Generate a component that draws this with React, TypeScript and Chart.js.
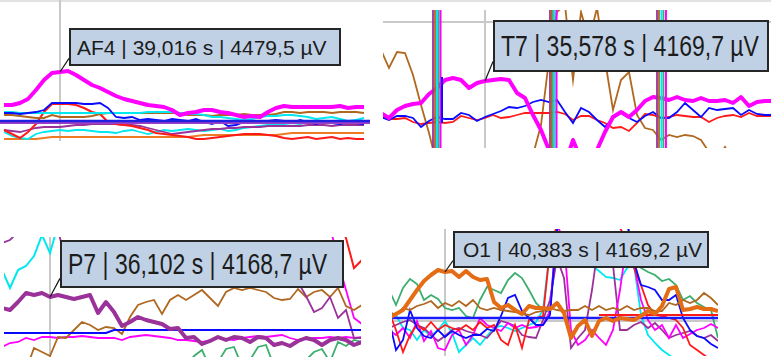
import React, { useEffect, useRef } from "react";
import { Chart, registerables } from "chart.js";

Chart.register(...registerables);

// ===================== DATA =====================
// Values are amplitudes on each panel's display rows (EEG convention: value axis reversed).

// ---- Panel AF4 (top-left), one sample per index ----
const af4Label = "AF4 | 39,016 s | 4479,5 µV";
const af4Cursor = 7;
const af4Magenta = [105,105,103,99,90,80,73,72,71,75, 80,85,88,92,96,99,101,103,105,106, 107,110,115,113,112,110,110,112,113,115, 117,116,117,112,108,106,107,107,107,107, 107,107,106,108,107,107];
const af4Blue = [113,113,114,113,112,110,103,103,103,103, 104,104,103,108,117,118,117,120,119,120, 121,119,120,121,119,122,124,121,126,125, 122,122,123,121,120,121,123,120,122,124, 121,123,124,122,123,124];
const af4Red = [130,134,138,132,124,112,104,104,104,105, 108,112,114,122,124,125,126,128,130,133, 134,135,136,137,139,139,138,137,136,135, 134,134,134,135,136,138,139,138,137,139, 138,137,139,138,139,139];
const af4CyanUpper = [112,112,113,113,113,113,113,113,113,113, 113,113,113,113,113,113,113,113,112,112, 112,112,113,114,114,115,117,117,118,119, 120,119,117,116,116,115,115,116,117,119, 118,117,119,121,120,118];
const af4CyanLower = [132,136,138,139,134,132,131,130,131,130, 130,131,132,132,133,131,130,132,134,132, 130,131,130,129,130,131,130,129,131,130, 128,127,126,125,124,124,123,124,122,121, 123,122,121,123,120,121];
const af4Brown = [115,115,116,117,118,118,115,117,117,117, 117,116,114,113,113,113,113,113,113,113, 113,113,113,115,115,115,116,115,115,115, 114,115,115,115,114,112,112,113,112,112, 112,113,112,112,112,113];
const af4Purple = [130,131,132,130,128,127,127,127,126,125, 125,124,124,124,124,125,125,126,128,130, 132,134,133,132,131,130,129,129,128,128, 127,127,127,126,126,126,126,126,125,125, 125,126,125,125,125,125];
const af4Orange = [139,139,139,139,139,138,137,137,137,137, 137,137,137,137,137,137,137,137,137,137, 137,137,137,137,136,135,135,135,135,135, 135,135,135,135,135,134,133,133,133,133, 133,133,133,133,133,133];
const af4FlatBlue = 121;
const af4FlatPurple = 123;

// ---- Panel T7 (top-right) ----
const t7Label = "T7 | 35,578 s | 4169,7 µV";
const t7Cursor = 13;
const t7Grid = [22];
const t7Magenta = [113,118,110,106,104,103,94,88,80,78, 80,88,83,81,80,79,80,93,98,115, 130,150,165,165,140,160,165,150,132,117, 112,117,110,101,97,98,100,97,100,101, 98,101,101,100,103,97,106,102,101,101];
const t7Blue = [117,120,116,116,118,127,121,117,119,119, 113,115,121,117,114,111,107,108,106,102, 100,102,100,112,123,108,112,120,127,118, 113,118,122,116,112,118,118,112,103,110, 117,108,110,109,108,115,110,114,115,115];
const t7Red = [117,119,119,118,122,124,123,122,123,122, 116,118,120,118,115,118,117,115,113,113, 113,113,112,114,120,116,116,120,123,128, 127,131,123,114,115,118,117,115,116,117, 117,122,118,116,115,117,113,116,116,116];
const t7Brown = [50,68,52,53,75,105,133,165,165,165, 165,165,165,165,165,165,165,165,165,155, 125,60,12,5,80,12,40,8,60,110, 80,72,115,128,130,140,135,137,135,136, 140,152,160,147,160,160,160,160,160,160];
// artifact bursts (sample positions where channels saturate)
const t7ArtPurple = [6.5, 21.125, 34.5];
const t7ArtBrown = [6.75, 21.31, 34.75];
const t7ArtGreen = [7.19, 21.5, 35.31];
const t7ArtCyan = [7.0, 21.69, 35.06];
const t7ArtMagenta = [7.44, 21.94, 35.62];
const t7ArtBlue = [7.625];
const t7ArtBlueRange = [77, 123];

// ---- Panel P7 (bottom-left) ----
const p7Label = "P7 | 36,102 s | 4168,7 µV";
const p7Cursor = 6;
const p7Purple = [308,310,302,293,295,293,297,295,297,299, 297,295,313,302,312,326,322,317,320,322, 324,329,328,338,337,344,341,337,340,337, 338,342,337,338,345,343,346,341,338,340, 345,340,338,340,345,342];
const p7PurpleThin = [243,240,232,230,230,230,230,230,262,262, 262,262,262,262,262,262,262,262,262,262, 262,262,262,262,262,262,262,262,262,262, 262,262,262,262,262,262,275,282,296,312, 308,297,318,310,338,338];
const p7Brown = [380,380,380,370,348,352,356,337,338,330, 322,325,330,327,328,334,317,305,302,300, 314,300,295,300,295,290,298,306,292,288, 290,288,290,292,298,300,299,289,297,292, 290,297,288,306,310,305];
const p7Blue = [333,333,333,333,333,333,333,333,333,333, 333,333,333,333,330,330,330,330,330,330, 330,330,330,330,330,330,330,330,330,330, 330,330,330,330,330,330,330,330,330,330, 330,330,330,330,330,330];
const p7Magenta = [347,343,342,338,340,337,337,338,337,337, 336,337,338,338,338,340,337,336,335,336, 337,338,340,340,341,342,340,338,339,340, 338,337,336,337,336,335,338,340,339,338, 338,337,338,337,338,337];
const p7Magenta2 = [225,225,225,225,225,225,225,225,225,225, 225,225,225,225,225,225,225,225,225,225, 225,225,225,225,225,225,225,225,225,225, 225,225,225,225,225,225,225,225,225,225, 225,225,262,290,318,324];
const p7Cyan = [270,288,270,266,256,235,253,225,220,220, 220,220,220,220,220,220,220,220,220,220, 220,220,220,220,220,220,220,220,220,220, 220,220,220,220,220,220,220,220,220,220, 220,220,220,220,220,220];
const p7Red = [220,220,220,220,220,220,220,220,220,220, 220,220,220,220,220,220,220,220,220,220, 220,220,220,220,220,220,220,220,220,220, 220,220,220,220,220,220,220,220,220,220, 220,220,222,238,268,260];
const p7Green = [372,372,372,372,372,372,372,372,372,372, 372,372,372,372,372,372,372,372,372,372, 372,372,372,366,356,350,368,362,349,347, 366,360,347,345,366,372,372,368,360,352, 349,362,342,346,340,342];

// ---- Panel O1 (bottom-right) ----
const o1Label = "O1 | 40,383 s | 4169,2 µV";
const o1Cursor = 8;
const o1Grid = [321];
const o1Orange = [318,314,310,300,290,281,275,270,272,271, 277,271,277,280,279,302,308,305,310,314, 306,308,308,309,303,313,338,326,320,336, 321,318,321,318,319,320,316,311,314,306, 289,287,310,309,307,309,309,311];
const o1Green = [290,305,288,279,284,300,295,299,308,310, 308,316,318,300,287,290,293,280,273,278, 290,303,310,312,225,215,215,215,215,215, 215,215,215,215,222,250,268,272,275,281, 279,285,300,296,303,307,310,338];
const o1Brown = [312,315,308,310,306,304,301,308,303,306, 301,306,300,308,310,308,310,311,312,314, 315,312,311,308,310,311,310,310,306,310, 306,310,308,310,306,310,308,308,311,311, 303,305,300,303,300,293,298,305];
const o1Magenta = [330,335,328,338,321,341,331,348,350,335, 330,345,335,318,325,328,331,323,328,325, 328,327,325,311,225,240,330,345,340,330, 338,345,330,290,240,265,300,320,330,325, 338,325,338,334,330,328,324,328];
const o1Cyan = [320,315,328,330,340,330,336,330,321,333, 352,345,338,345,336,328,326,328,331,328, 325,322,310,248,238,255,265,262,262,266, 271,277,278,280,268,265,315,335,343,350, 355,360,365,368,368,368,368,368];
const o1Blue = [320,350,340,310,328,336,338,330,337,331, 335,338,335,335,329,331,316,298,295,311, 318,325,325,315,230,220,215,215,215,215, 215,215,215,215,222,262,285,287,290,300, 300,295,318,330,336,338,344,348];
const o1Red = [312,330,352,335,325,330,322,330,325,328, 330,325,330,322,328,325,340,345,325,348, 320,318,316,250,225,220,215,215,215,215, 215,215,215,228,240,268,285,305,315,316, 318,320,328,345,350,355,360,365];
const o1Purple = [328,325,322,320,325,328,335,341,336,330, 328,331,333,335,338,330,321,323,326,335, 337,338,320,300,258,278,348,338,330,290, 240,256,265,330,330,325,322,328,323,330, 338,335,333,331,336,338,335,341];
const o1FlatBlue = 318;
const o1FlatRed = 315;
const o1FlatRedFrom = 30;

// ===================== COLOURS =====================
const MAGENTA = "#ff00ff";
const BLUE = "#0a0aff";
const RED = "#ff1a1a";
const CYAN = "#00e8f0";
const BROWN = "#b06820";
const PURPLE = "#9a329a";
const ORANGE = "#ef7a24";
const GREEN = "#3cae6e";
const THIN = 1.8;

type Layer =
  | { kind: "trace"; values: number[]; color: string; width: number }
  | { kind: "flat"; value: number; color: string; width: number; from?: number }
  | { kind: "spike"; at: number[]; color: string; width: number; range?: number[] };

type PanelSpec = {
  frame: { left: number; top: number; width: number; height: number };
  xWindow: [number, number];
  yWindow: [number, number];
  layers: Layer[];
  cursor: number;
  cursorTrace: number[];
  grid?: number[];
  label: { text: string; left: number; top: number; width: number; height: number; fontSize: number; stretch: number; pad: number };
};

const tr = (values: number[], color: string, width = THIN): Layer => ({ kind: "trace", values, color, width });

const panels: PanelSpec[] = [
  {
    frame: { left: 0, top: 0, width: 370, height: 141 },
    xWindow: [-0.5, 45.75],
    yWindow: [0, 141],
    cursor: af4Cursor,
    cursorTrace: af4Magenta,
    layers: [
      tr(af4Orange, ORANGE, 2),
      tr(af4CyanLower, CYAN),
      tr(af4Purple, PURPLE),
      tr(af4Red, RED, 2),
      tr(af4Brown, BROWN, 2),
      tr(af4CyanUpper, CYAN, 2),
      tr(af4Blue, BLUE),
      { kind: "flat", value: af4FlatPurple, color: "#9b3fc8", width: 1.8 },
      { kind: "flat", value: af4FlatBlue, color: "#2020e0", width: 2.5 },
      tr(af4Magenta, MAGENTA, 4),
    ],
    label: { text: af4Label, left: 69, top: 28, width: 272, height: 38, fontSize: 21, stretch: 1.0, pad: 8 },
  },
  {
    frame: { left: 383, top: 10, width: 388, height: 138 },
    xWindow: [0.25, 48.75],
    yWindow: [10, 148],
    cursor: t7Cursor,
    cursorTrace: t7Magenta,
    grid: t7Grid,
    layers: [
      tr(t7Brown, BROWN),
      tr(t7Red, RED),
      tr(t7Blue, BLUE),
      tr(t7Magenta, MAGENTA, 4),
      { kind: "spike", at: t7ArtPurple, color: PURPLE, width: 1.8 },
      { kind: "spike", at: t7ArtBrown, color: BROWN, width: 1.8 },
      { kind: "spike", at: t7ArtGreen, color: GREEN, width: 1.8 },
      { kind: "spike", at: t7ArtCyan, color: CYAN, width: 2 },
      { kind: "spike", at: t7ArtMagenta, color: MAGENTA, width: 2 },
      { kind: "spike", at: t7ArtBlue, color: BLUE, width: 2, range: t7ArtBlueRange },
    ],
    label: { text: t7Label, left: 493, top: 20, width: 276, height: 52, fontSize: 23, stretch: 1.3, pad: 8 },
  },
  {
    frame: { left: 4, top: 237, width: 357, height: 120 },
    xWindow: [0.25, 44.875],
    yWindow: [237, 357],
    cursor: p7Cursor,
    cursorTrace: p7Purple,
    layers: [
      tr(p7Green, GREEN),
      tr(p7Cyan, CYAN, 2),
      tr(p7Red, RED, 2),
      tr(p7Magenta2, MAGENTA),
      tr(p7Magenta, MAGENTA),
      tr(p7Brown, BROWN),
      tr(p7PurpleThin, PURPLE),
      tr(p7Blue, BLUE, 2),
      tr(p7Purple, PURPLE, 4),
    ],
    label: { text: p7Label, left: 60, top: 240, width: 284, height: 48, fontSize: 23, stretch: 1.3, pad: 8 },
  },
  {
    frame: { left: 392, top: 229, width: 326, height: 127 },
    xWindow: [3 / 7, 47],
    yWindow: [229, 356],
    cursor: o1Cursor,
    cursorTrace: o1Orange,
    grid: o1Grid,
    layers: [
      tr(o1Cyan, CYAN),
      tr(o1Green, GREEN),
      tr(o1Purple, PURPLE),
      tr(o1Magenta, MAGENTA),
      tr(o1Red, RED),
      tr(o1Blue, BLUE),
      tr(o1Brown, BROWN),
      { kind: "flat", value: o1FlatBlue, color: "#1a1aff", width: 2.5 },
      { kind: "flat", value: o1FlatRed, color: RED, width: 2, from: o1FlatRedFrom },
      tr(o1Orange, "#e46c14", 4),
    ],
    label: { text: o1Label, left: 453, top: 231, width: 256, height: 37, fontSize: 21, stretch: 1.0, pad: 10 },
  },
];

// cursor line, reference lines and label leader
const eegOverlay = {
  id: "eegOverlay",
  beforeDatasetsDraw(chart: any, _args: any, opts: any) {
    const { ctx, chartArea: a, scales } = chart;
    ctx.save();
    ctx.strokeStyle = "#c9c9c9";
    ctx.lineWidth = 2;
    for (const g of opts.grid || []) {
      const y = Math.round(scales.y.getPixelForValue(g));
      ctx.beginPath();
      ctx.moveTo(a.left, y);
      ctx.lineTo(a.right, y);
      ctx.stroke();
    }
    const cx = Math.round(scales.x.getPixelForValue(opts.cursor));
    ctx.beginPath();
    ctx.moveTo(cx, a.top);
    ctx.lineTo(cx, a.bottom);
    ctx.stroke();
    ctx.restore();
  },
  afterDatasetsDraw(chart: any, _args: any, opts: any) {
    const { ctx, scales } = chart;
    const px = scales.x.getPixelForValue(opts.cursor);
    const py = scales.y.getPixelForValue(opts.cursorValue);
    ctx.save();
    ctx.strokeStyle = "#151515";
    ctx.lineWidth = 1.2;
    ctx.beginPath();
    ctx.moveTo(px, py);
    ctx.lineTo(opts.leader.x, opts.leader.y);
    ctx.stroke();
    ctx.restore();
  },
};

function EegPanel({ spec }: { spec: PanelSpec }) {
  const ref = useRef<HTMLCanvasElement | null>(null);
  useEffect(() => {
    const canvas = ref.current;
    if (!canvas) return;
    const [x0, x1] = spec.xWindow;
    const [y0, y1] = spec.yWindow;
    const datasets: any[] = spec.layers.map((layer) => {
      let data: any[];
      if (layer.kind === "trace") data = layer.values.map((v, i) => ({ x: i, y: v }));
      else if (layer.kind === "flat")
        data = [
          { x: layer.from ?? x0, y: layer.value },
          { x: x1, y: layer.value },
        ];
      else {
        const lo = layer.range ? layer.range[0] : y0 - 60;
        const hi = layer.range ? layer.range[1] : y1 + 60;
        data = layer.at.flatMap((t) => [
          { x: t, y: lo },
          { x: t, y: hi },
          { x: t, y: null },
        ]);
      }
      return {
        data,
        borderColor: layer.color,
        backgroundColor: layer.color,
        borderWidth: layer.width,
        pointRadius: 0,
        pointHoverRadius: 0,
        tension: 0,
        fill: false,
        spanGaps: false,
        borderJoinStyle: layer.width > 3 ? "round" : "miter",
        clip: 0,
      };
    });
    datasets.forEach((d, i) => (d.order = datasets.length - i));
    const lab = spec.label;
    const chart = new Chart(canvas, {
      type: "line",
      data: { datasets },
      options: {
        animation: false,
        responsive: false,
        devicePixelRatio: 1,
        events: [],
        layout: { padding: 0, autoPadding: false },
        plugins: {
          legend: { display: false },
          tooltip: { enabled: false },
          eegOverlay: {
            cursor: spec.cursor,
            cursorValue: spec.cursorTrace[spec.cursor],
            grid: spec.grid || [],
            leader: { x: lab.left - spec.frame.left, y: lab.top + lab.height * 0.8 - spec.frame.top },
          },
        } as any,
        scales: {
          x: { type: "linear", display: false, min: x0, max: x1 },
          y: { type: "linear", display: false, min: y0, max: y1, reverse: true },
        },
      },
      plugins: [eegOverlay as any],
    } as any);
    return () => chart.destroy();
  }, [spec]);

  const { frame, label } = spec;
  return (
    <>
      <canvas
        ref={ref}
        width={frame.width}
        height={frame.height}
        style={{ position: "absolute", left: frame.left, top: frame.top, width: frame.width, height: frame.height }}
      />
      <div
        style={{
          position: "absolute",
          left: label.left,
          top: label.top,
          width: label.width,
          height: label.height,
          boxSizing: "border-box",
          background: "#c0d1e5",
          border: "2px solid #262626",
          display: "flex",
          alignItems: "center",
          paddingLeft: label.pad - 2,
          fontFamily: '"Liberation Sans", Arial, sans-serif',
          fontSize: label.fontSize,
          color: "#1c1c1c",
          whiteSpace: "nowrap",
          zIndex: 2,
        }}
      >
        <span style={{ display: "inline-block", transform: `scaleY(${label.stretch})`, lineHeight: 1 }}>{label.text}</span>
      </div>
    </>
  );
}

export default function App() {
  return (
    <div
      style={{
        position: "fixed",
        left: 0,
        top: 0,
        width: 771,
        height: 364,
        background: "#ffffff",
        overflow: "hidden",
      }}
    >
      <div style={{ position: "absolute", left: 0, top: 0, width: 771, height: 2, background: "#e2e2e2" }} />
      {panels.map((p, i) => (
        <EegPanel key={i} spec={p} />
      ))}
    </div>
  );
}
